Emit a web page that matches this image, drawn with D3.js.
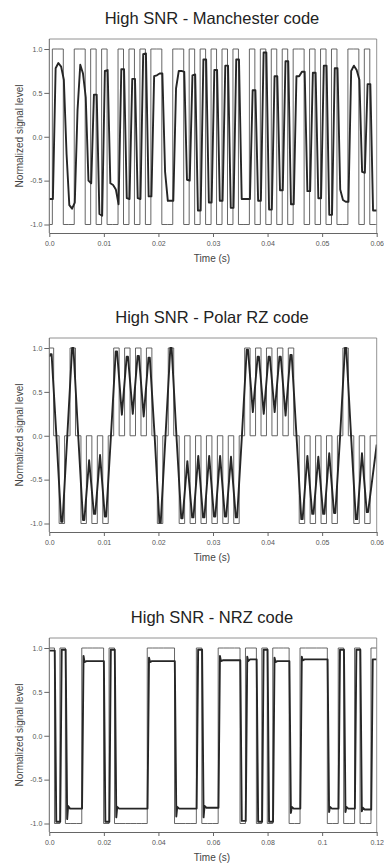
<!DOCTYPE html>
<html><head><meta charset="utf-8">
<script src="https://cdn.jsdelivr.net/npm/d3@7"></script>
<style>body{margin:0;background:#fff}svg{display:block}</style>
</head><body>
<script>
// ---------- Manchester (half-bit levels, idx -1..59) ----------
const manLevels = [-1,
  1,1,-1,-1,1,1,-1,1,-1,1,-1,-1,1,-1,1,-1,1,-1,1,1,
  -1,-1,1,1,-1,1,-1,1,-1,1,-1,1,-1,1,-1,-1,1,-1,1,-1,
  1,-1,1,-1,1,1,-1,1,-1,1,-1,1,-1,-1,1,1,-1,1,-1,-1];
// received level right after each transition ramp
const manRampLevel = [-0.71,
  0.78,0.80,-0.20,-0.82,0.30,0.72,-0.50,0.48,-0.88,0.75,-0.53,-0.60,0.77,-0.70,0.66,-0.70,0.94,-0.68,0.69,0.72,
  -0.40,-0.73,0.55,0.75,-0.49,0.70,-0.84,0.88,-0.75,0.76,-0.73,0.81,-0.81,0.88,-0.71,-0.71,0.53,-0.73,0.96,-0.83,
  0.69,-0.61,0.86,-0.77,0.69,0.74,-0.62,0.73,-0.70,0.81,-0.89,0.78,-0.60,-0.74,0.75,0.76,-0.40,0.60,-0.84,-0.84];
// received level at the end of each half-bit
const manEndLevel = [-0.71,
  0.84,0.65,-0.78,-0.75,0.82,0.45,-0.53,0.48,-0.90,0.76,-0.55,-0.77,0.77,-0.71,0.66,-0.71,0.95,-0.68,0.70,0.72,
  -0.73,-0.73,0.75,0.74,-0.50,0.71,-0.84,0.88,-0.75,0.76,-0.73,0.81,-0.81,0.88,-0.71,-0.71,0.53,-0.73,0.96,-0.83,
  0.69,-0.61,0.86,-0.77,0.69,0.74,-0.62,0.73,-0.70,0.81,-0.89,0.78,-0.72,-0.74,0.81,0.65,-0.41,0.60,-0.84,-0.84];

// ---------- Polar RZ (30 bits) ----------
const rzBits = [1,-1,1,-1,-1,-1,1,1,1,1,-1,1,-1,-1,-1,-1,-1,-1,1,1,1,1,1,-1,-1,-1,-1,1,-1,-1];
const rzPeak = [0.93,-0.98,1.0,-0.96,-0.89,-0.92,0.96,0.90,0.91,0.89,-0.99,1.0,-0.94,-0.93,-0.93,-0.92,-0.92,-0.93,
  0.98,0.90,0.90,0.90,0.92,-0.95,-0.89,-0.89,-0.88,1.0,-0.95,-0.87];
const rzDip = [0,0,0,-0.28,-0.22,0,0.24,0.25,0.22,0,0,0,-0.29,-0.23,-0.23,-0.23,-0.24,0,
  0.27,0.25,0.27,0.23,0,-0.23,-0.24,-0.20,0,0,-0.20];
const rzStartLevel = 0.90, rzEndLevel = -0.10;

// ---------- NRZ (60 bits) ----------
const nrzBits = [1,-1,1,-1,-1,-1,1,1,1,1,-1,1,-1,-1,-1,-1,-1,-1,1,1,1,1,1,-1,-1,-1,-1,1,-1,-1,
  -1,1,1,1,1,-1,1,1,-1,1,-1,1,1,1,-1,-1,1,1,1,1,1,-1,-1,1,-1,-1,1,-1,-1,1];
// per run of equal bits: overshoot, settle, plateau level
const nrzOver   = [0.97,-0.98,0.98,-0.95,0.91,-0.98,0.98,-0.93,0.89,-0.92,0.98,-0.93,0.91,-0.97,0.90,-0.98,0.98,-0.98,0.89,-0.88,0.90,-0.87,0.98,-0.87,0.98,-0.86,0.87];
const nrzSettle = [0.97,-0.98,0.98,-0.80,0.84,-0.98,0.98,-0.81,0.84,-0.81,0.98,-0.80,0.85,-0.97,0.85,-0.98,0.98,-0.98,0.84,-0.81,0.86,-0.81,0.98,-0.81,0.98,-0.82,0.87];
const nrzLevel  = [0.97,-0.98,0.98,-0.83,0.85,-0.98,0.98,-0.83,0.85,-0.83,0.98,-0.82,0.86,-0.97,0.87,-0.98,0.98,-0.98,0.85,-0.83,0.87,-0.83,0.98,-0.83,0.98,-0.84,0.87];

const yTicks = [-1,-0.5,0,0.5,1];
const xTicks1 = [0,10,20,30,40,50,60], xLabels1 = ["0.0","0.01","0.02","0.03","0.04","0.05","0.06"];
const xTicks3 = [0,20,40,60,80,100,120], xLabels3 = ["0.0","0.02","0.04","0.06","0.08","0.1","0.12"];
const titles = ["High SNR - Manchester code","High SNR - Polar RZ code","High SNR - NRZ code"];

// ---------- build waveforms (time in ms) ----------
const LAG = 0.1;
function manchester(){
  const OFF = 0.56, HALF = 1.003, RAMP = 0.5;
  const st = j => OFF + (j-1)*HALF;
  const sq = [[0, manLevels[0]]], rx = [[0, manRampLevel[0]]];
  for (let j=1;j<manLevels.length;j++){
    sq.push([st(j), manLevels[j]]);
    rx.push([st(j)+LAG, manEndLevel[j-1]]);
    rx.push([st(j)+LAG+RAMP, manRampLevel[j]]);
  }
  sq.push([60, manLevels[manLevels.length-1]]);
  rx.push([60.6, manEndLevel[manEndLevel.length-1]]);
  return {sq, rx, xmax:60};
}
function polarRZ(){
  const OFF = -0.2;
  const sq = [], rx = [[0, rzStartLevel]];
  rzBits.forEach((b,k)=>{
    const s = OFF + 2*k;
    sq.push([Math.max(s,0), b]); sq.push([s+1, 0]);
    const c = s + 0.5;
    rx.push([c-0.12, rzPeak[k]]); rx.push([c+0.12, rzPeak[k]]);
    if (k < rzDip.length) rx.push([c+1, rzDip[k]]);
  });
  sq.push([60, 0]);
  rx.push([60, rzEndLevel]);
  return {sq, rx, xmax:60};
}
function nrz(){
  const OFF = -0.1;
  const sq = [];
  nrzBits.forEach((b,k)=> sq.push([Math.max(OFF+2*k,0), b]));
  sq.push([120, nrzBits[nrzBits.length-1]]);
  // runs
  const runs = [];
  nrzBits.forEach((b,k)=>{
    if (k===0 || b!==nrzBits[k-1]) runs.push({start:k, len:1});
    else runs[runs.length-1].len++;
  });
  const rx = [[0, nrzOver[0]]];
  let prevEnd = nrzLevel[0];
  runs.forEach((r,i)=>{
    if (i===0) return;
    const t0 = OFF + 2*r.start + LAG;
    rx.push([t0, prevEnd]);
    rx.push([t0+0.55, nrzOver[i]]);
    if (r.len>1){
      rx.push([t0+0.9, nrzSettle[i]]);
      rx.push([t0+1.6, nrzLevel[i]]);
    }
    prevEnd = nrzLevel[i];
  });
  rx.push([120, prevEnd]);
  return {sq, rx, xmax:120};
}

const svg = d3.select("body").append("svg").attr("width",384).attr("height",864)
  .style("font-family","'Liberation Sans', Arial, sans-serif");

function panel(idx, top, data, ticks, labels){
  const L = 49.3, R = 376.7, B = top + 194;
  const x = d3.scaleLinear().domain([0, data.xmax]).range([L, R]);
  const y = d3.scaleLinear().domain([-1, 1]).range([top + 185.5, top + 10]);
  const g = svg.append("g");
  g.append("text").attr("x", 212).attr("y", top - 15.5).attr("text-anchor","middle")
    .attr("font-size", 16.5).attr("fill", "#222").text(titles[idx]);
  const cid = "clip"+idx;
  svg.append("clipPath").attr("id", cid).append("rect")
    .attr("x", L).attr("y", top).attr("width", R-L).attr("height", B-top);
  const line = d3.line().x(d=>x(d[0])).y(d=>y(d[1]));
  const pg = g.append("g").attr("clip-path", `url(#${cid})`);
  pg.append("path").datum(data.sq).attr("d", line.curve(d3.curveStepAfter))
    .attr("fill","none").attr("stroke","#555").attr("stroke-width",0.9);
  pg.append("path").datum(data.rx).attr("d", d3.line().x(d=>x(d[0])).y(d=>y(d[1])))
    .attr("fill","none").attr("stroke","#262626").attr("stroke-width",1.9).attr("stroke-linejoin","round");
  // frame
  g.append("line").attr("x1",L).attr("x2",R).attr("y1",top).attr("y2",top).attr("stroke","#777").attr("stroke-width",0.8);
  g.append("line").attr("x1",R).attr("x2",R).attr("y1",top).attr("y2",B).attr("stroke","#777").attr("stroke-width",0.8);
  // axes
  const ya = g.append("g").attr("transform",`translate(${L},0)`)
    .call(d3.axisLeft(y).tickValues(yTicks).tickFormat(d=>d.toFixed(1)).tickSize(5).tickPadding(2));
  ya.select(".domain").attr("d", `M0,${top}V${B}`);
  const xa = g.append("g").attr("transform",`translate(0,${B})`)
    .call(d3.axisBottom(x).tickValues(ticks).tickFormat((d,i)=>labels[i]).tickSize(4).tickPadding(4).tickSizeOuter(0));
  [ya, xa].forEach(a=>{
    a.selectAll("path,line").attr("stroke","#666");
    a.selectAll("text").attr("font-size",7).attr("fill","#555").attr("font-family","'Liberation Sans', Arial, sans-serif");
  });
  g.append("text").attr("x", 212).attr("y", B + 28.5).attr("text-anchor","middle")
    .attr("font-size",10).attr("fill","#444").text("Time (s)");
  g.append("text").attr("transform",`translate(22.5,${top+97}) rotate(-90)`).attr("text-anchor","middle")
    .attr("font-size",10).attr("fill","#444").text("Normalized signal level");
}

panel(0, 39, manchester(), xTicks1, xLabels1);
panel(1, 338, polarRZ(), xTicks1, xLabels1);
panel(2, 638, nrz(), xTicks3, xLabels3);
</script>
</body></html>
